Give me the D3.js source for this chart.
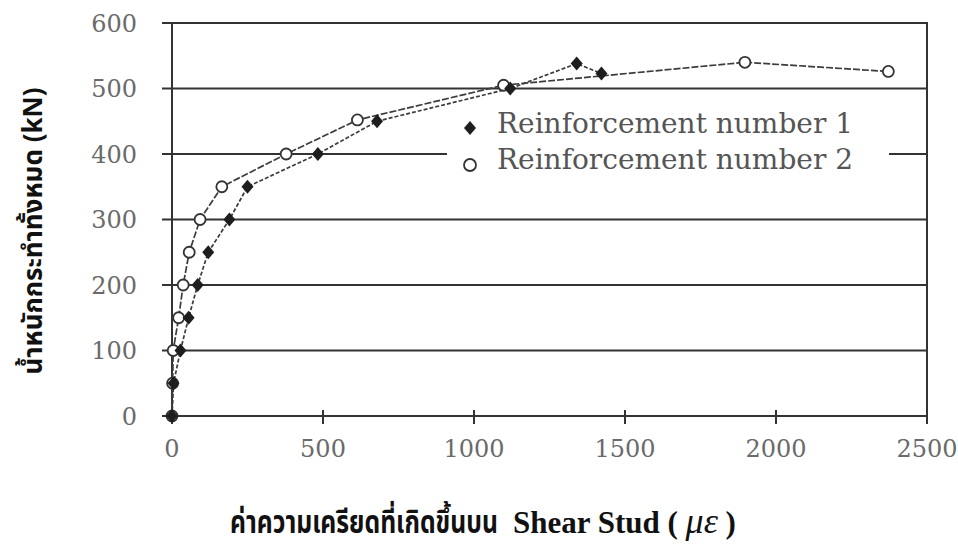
<!DOCTYPE html>
<html>
<head>
<meta charset="utf-8">
<script src="https://cdn.jsdelivr.net/npm/d3@7"></script>
<style>
  html, body { margin: 0; padding: 0; background: #fff; }
  svg { display: block; }
</style>
</head>
<body>
<svg id="chart" width="958" height="547"></svg>
<script>
// Load vs. strain readings on the shear studs
const series1Strain = [0, 5, 28, 55, 85, 120, 190, 250, 483, 679, 1120, 1340, 1422];
const series1Load   = [0, 50, 100, 150, 200, 250, 300, 350, 400, 450, 500, 538, 523];
const series2Strain = [0, 2, 4, 22, 37, 57, 93, 165, 378, 614, 1098, 1897, 2372];
const series2Load   = [0, 50, 100, 150, 200, 250, 300, 350, 400, 452, 505, 540, 526];

const seriesNames = ["Reinforcement number 1", "Reinforcement number 2"];
const xTickValues = [0, 500, 1000, 1500, 2000, 2500];
const yTickValues = [0, 100, 200, 300, 400, 500, 600];

const yTitle = "น้ำหนักกระทำทั้งหมด (kN)";
const xTitleThai = "ค่าความเครียดที่เกิดขึ้นบน";
const xTitleEn = "Shear Stud ( ";
const xTitleSym = "με";
const xTitleEnd = " )";

const svg = d3.select("#chart");
const plotL = 172, plotR = 927, plotT = 23, plotB = 416;

const x = d3.scaleLinear().domain([0, 2500]).range([plotL, plotR]);
const y = d3.scaleLinear().domain([0, 600]).range([plotB, plotT]);

const ink = "#333";
const labelFont = "'DejaVu Serif', serif";

// horizontal grid lines, extending a little past the left axis
svg.append("g").selectAll("line").data(yTickValues).join("line")
  .attr("x1", plotL - 10).attr("x2", plotR)
  .attr("y1", d => y(d)).attr("y2", d => y(d))
  .attr("stroke", ink).attr("stroke-width", 2);

// left axis and right frame
svg.append("line").attr("x1", plotL).attr("x2", plotL).attr("y1", plotT).attr("y2", plotB + 2)
  .attr("stroke", ink).attr("stroke-width", 2);
svg.append("line").attr("x1", plotR).attr("x2", plotR).attr("y1", plotT - 1).attr("y2", plotB + 1)
  .attr("stroke", ink).attr("stroke-width", 2);

// y tick labels
svg.append("g").selectAll("text").data(yTickValues).join("text")
  .attr("x", 137).attr("y", d => y(d))
  .attr("dy", "0.36em")
  .attr("text-anchor", "end")
  .attr("font-family", labelFont).attr("font-size", 24)
  .attr("fill", "#6a6a6a")
  .text(d => d);

// x tick marks and labels
svg.append("g").selectAll("line").data(xTickValues).join("line")
  .attr("x1", d => x(d)).attr("x2", d => x(d))
  .attr("y1", plotB - 6).attr("y2", plotB + 8)
  .attr("stroke", ink).attr("stroke-width", 2);
svg.append("g").selectAll("text").data(xTickValues).join("text")
  .attr("x", d => x(d)).attr("y", 457)
  .attr("text-anchor", "middle")
  .attr("font-family", labelFont).attr("font-size", 24)
  .attr("fill", "#6a6a6a")
  .text(d => d);

// legend panel (covers the grid line behind it)
const legend = svg.append("g");
legend.append("rect").attr("x", 447).attr("y", 102).attr("width", 442).attr("height", 76)
  .attr("fill", "#fff");

// series lines
const s1 = series1Strain.map((v, i) => [v, series1Load[i]]);
const s2 = series2Strain.map((v, i) => [v, series2Load[i]]);
const line = d3.line().x(d => x(d[0])).y(d => y(d[1]));

svg.append("path").datum(s2).attr("d", line)
  .attr("fill", "none").attr("stroke", "#3c3c3c").attr("stroke-width", 1.7)
  .attr("stroke-dasharray", "7,2");
svg.append("path").datum(s1).attr("d", line)
  .attr("fill", "none").attr("stroke", "#3c3c3c").attr("stroke-width", 1.7)
  .attr("stroke-dasharray", "4,2");

const diamond = "M0,-7L6,0L0,7L-6,0Z";

svg.append("g").selectAll("circle").data(s2).join("circle")
  .attr("cx", d => x(d[0])).attr("cy", d => y(d[1])).attr("r", 5.5)
  .attr("fill", "#fff").attr("stroke", "#333").attr("stroke-width", 1.8);
svg.append("g").selectAll("path").data(s1).join("path")
  .attr("transform", d => `translate(${x(d[0])},${y(d[1])})`)
  .attr("d", diamond).attr("fill", "#1e1e1e");

// legend entries
legend.append("path").attr("transform", "translate(470,128)").attr("d", diamond).attr("fill", "#1e1e1e");
legend.append("circle").attr("cx", 470).attr("cy", 165).attr("r", 6)
  .attr("fill", "#fff").attr("stroke", "#333").attr("stroke-width", 1.8);
legend.selectAll("text").data(seriesNames).join("text")
  .attr("x", 497).attr("y", (d, i) => 133 + i * 36)
  .attr("font-family", labelFont).attr("font-size", 28)
  .attr("fill", "#555")
  .text(d => d);

// axis titles
svg.append("text")
  .attr("transform", "translate(42,231) rotate(-90)")
  .attr("text-anchor", "middle")
  .attr("font-family", "'Noto Sans Thai', 'Noto Sans', 'DejaVu Sans', sans-serif")
  .attr("font-weight", "bold").attr("font-size", 26)
  .attr("fill", "#111")
  .text(yTitle);

// x title: horizontally condensed Thai run followed by the English/symbol run
const titleBase = 533;
const thai = svg.append("text")
  .attr("font-family", "'Noto Sans Thai', 'Noto Sans', sans-serif")
  .attr("font-weight", "bold").attr("font-size", 31)
  .attr("fill", "#111")
  .text(xTitleThai);
const thaiWidth = thai.node().getComputedTextLength();
const squeeze = 268 / thaiWidth;
thai.attr("transform", `translate(230,${titleBase}) scale(${squeeze},1)`);

const xt = svg.append("text")
  .attr("x", 513).attr("y", titleBase)
  .attr("font-family", "'Liberation Serif', 'Times New Roman', serif")
  .attr("font-weight", "bold").attr("font-size", 31)
  .attr("fill", "#111");
xt.append("tspan").text(xTitleEn);
xt.append("tspan").attr("font-style", "italic").attr("font-weight", "normal")
  .attr("font-size", 36).text(xTitleSym);
xt.append("tspan").text(xTitleEnd);
</script>
</body>
</html>
